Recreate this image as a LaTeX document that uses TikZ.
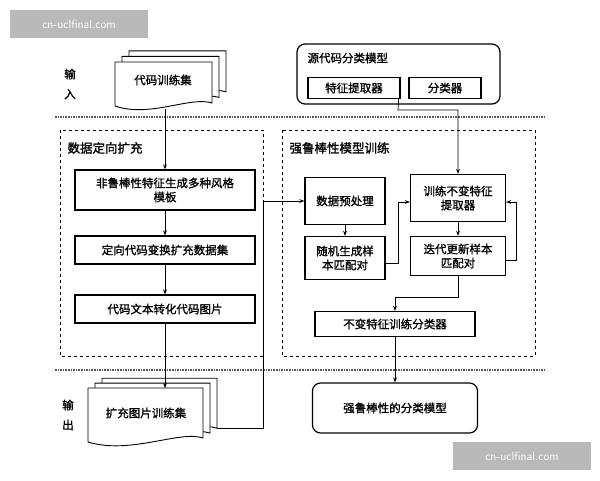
\documentclass[tikz,border=0pt]{standalone}
\usepackage{fontspec}
\newfontfamily\cjk[FakeBold=1.2]{Noto Sans CJK SC}
\usetikzlibrary{arrows.meta,calc}
\begin{document}
\begin{tikzpicture}[x=1pt,y=-1pt,font=\cjk\fontsize{11.5}{14}\selectfont,
  box/.style={draw,line width=1.2pt,align=center,inner sep=2pt},
  rbox/.style={draw,line width=1.2pt,rounded corners=8pt},
  dbox/.style={draw,dashed,line width=1pt},
  sep/.style={densely dotted,line width=1.6pt,gray!70!black},
  arr/.style={-{Stealth[length=5pt]},line width=0.7pt},
  docs/.style={draw,fill=white,line width=0.9pt},
  wm/.style={fill=gray!55,text=white,font=\sffamily\fontsize{12}{14}\selectfont,minimum width=138pt,minimum height=28pt}]
\useasboundingbox (0,0) rectangle (600,480);
\fill[white] (0,0) rectangle (600,480);
% watermarks
\node[wm] (wm1) at (79,24) {cn-uclfinal.com};
\node[wm] (wm2) at (522,456) {cn-uclfinal.com};
% separators
\draw[sep] (55,117) -- (545,117);
\draw[sep] (55,370) -- (545,370);
% side labels
\node[align=center] (in) at (70,84) {输\\[6pt]入};
\node[align=center] (out) at (68,415) {输\\[6pt]出};
% input documents
\foreach \d in {14,7}{
  \draw[docs] (115+\d,62-\d*0.8) -- (212+\d,62-\d*0.8) -- (212+\d,103-\d*0.8) .. controls (190+\d,96-\d*0.8) and (150+\d,118-\d*0.8) .. (115+\d,106-\d*0.8) -- cycle;}
\draw[docs] (115,62) -- (212,62) -- (212,103) .. controls (190,96) and (150,118) .. (115,106) -- cycle;
\node (train) at (163,80) {代码训练集};
\coordinate (trainb) at (165,109);
% output documents
\foreach \d in {14,7}{
  \draw[docs] (88+\d,388-\d*0.7) -- (203+\d,388-\d*0.7) -- (203+\d,438-\d*0.7) .. controls (180+\d,430-\d*0.7) and (130+\d,455-\d*0.7) .. (88+\d,442-\d*0.7) -- cycle;}
\draw[docs] (88,388) -- (203,388) -- (203,438) .. controls (180,430) and (130,455) .. (88,442) -- cycle;
\node (aug) at (146,413) {扩充图片训练集};
\coordinate (augt) at (165,388);
\coordinate (augr) at (217,428);
% source model
\draw[rbox] (297,44) rectangle (500,104);
\node[anchor=west] (src) at (304,58) {源代码分类模型};
\node[box,minimum width=92pt,minimum height=21pt] (fe) at (354,88) {特征提取器};
\node[box,minimum width=72pt,minimum height=21pt] (cls) at (445,88) {分类器};
% dashed groups
\draw[dbox] (60,130) rectangle (263,356);
\node[anchor=west,font=\cjk\fontsize{12.5}{14}\selectfont] (g1) at (64,148) {数据定向扩充};
\draw[dbox] (282,130) rectangle (535,356);
\node[anchor=west,font=\cjk\fontsize{12.5}{14}\selectfont] (g2) at (286,148) {强鲁棒性模型训练};
% left boxes
\node[box,minimum width=180pt,minimum height=40pt] (b1) at (165,190) {非鲁棒性特征生成多种风格\\模板};
\node[box,minimum width=180pt,minimum height=28pt] (b2) at (165,250) {定向代码变换扩充数据集};
\node[box,minimum width=180pt,minimum height=28pt] (b3) at (165,309) {代码文本转化代码图片};
% right boxes
\node[box,minimum width=80pt,minimum height=47pt] (p1) at (345,201) {数据预处理};
\node[box,minimum width=80pt,minimum height=43pt] (p2) at (345,258) {随机生成样\\本匹配对};
\node[box,minimum width=95pt,minimum height=47pt] (t1) at (458,198) {训练不变特征\\提取器};
\node[box,minimum width=95pt,minimum height=39pt] (t2) at (458,256) {迭代更新样本\\匹配对};
\node[box,minimum width=160pt,minimum height=25pt] (c1) at (395,324) {不变特征训练分类器};
\node[rbox,minimum width=165pt,minimum height=50pt] (fin) at (395,408) {强鲁棒性的分类模型};
% connectors
\draw[arr] (trainb) -- (b1.north);
\draw[arr] (b1) -- (b2);
\draw[arr] (b2) -- (b3);
\draw[arr] (b3.south) -- (augt);
\draw[arr] (augr) -- (263,428) -- (263,201) -- (p1.west);
\draw[arr] ($(fe.south east)+(-2,0)$) -- (398,110) -- (458,110) -- (t1.north);
\draw[arr] (p1) -- (p2);
\draw[arr] (p2.east) ++(0,5) -- ++(13,0) |- ($(t1.west)+(0,4)$);
\draw[arr] (t1) -- (t2);
\draw[arr] (t2.east) ++(0,4) -- ++(10,0) |- ($(t1.east)+(0,4)$);
\draw[arr] (t2.south) -- (458,297) -- (395,297) -- (c1.north);
\draw[arr] (c1) -- (fin);
\end{tikzpicture}
\end{document}
